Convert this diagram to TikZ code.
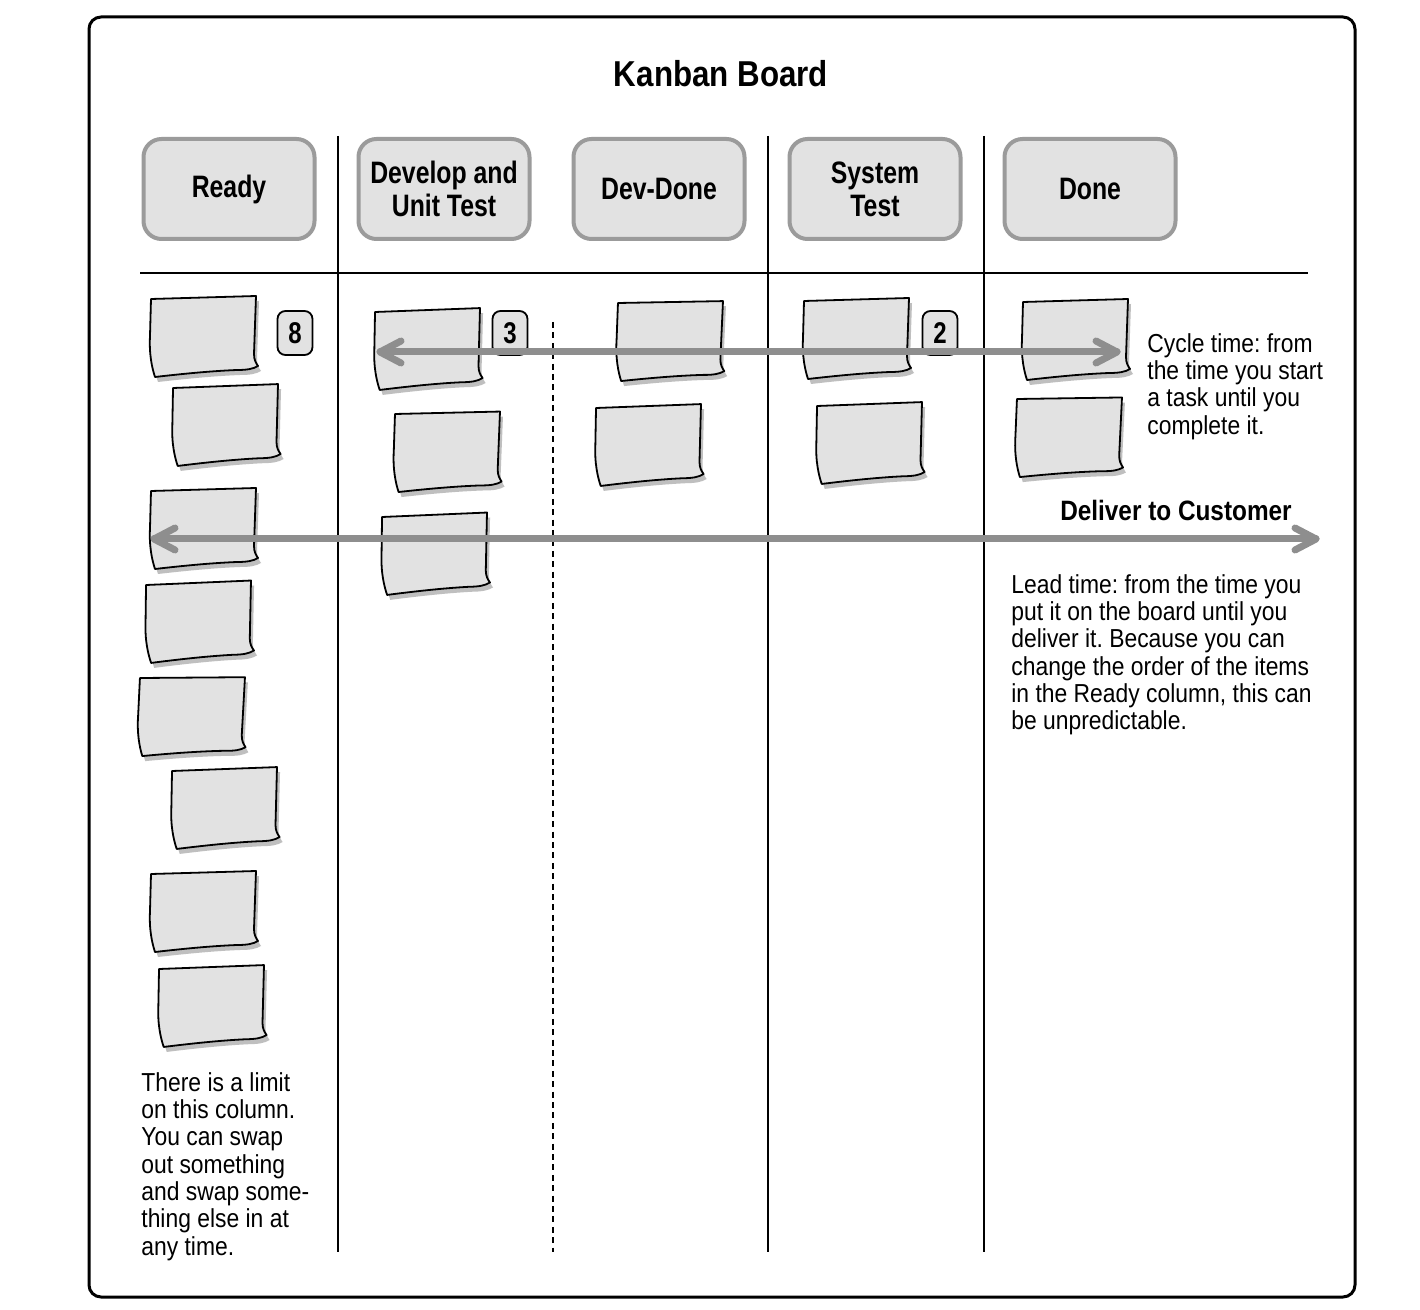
\documentclass[tikz,border=0pt]{standalone}
\usepackage{fontspec}
\setmainfont{Liberation Sans}[FakeStretch=0.88]
\newfontfamily\headfont{Liberation Sans}[FakeStretch=0.8]
\newfontfamily\titlefont{Liberation Sans}[FakeStretch=0.87]
\frenchspacing
\definecolor{cardgray}{HTML}{E2E2E2}
\definecolor{rimgray}{HTML}{9B9B9B}
\definecolor{flowgray}{HTML}{8E8E8E}
\tikzset{
    header/.style={rectangle, rounded corners=9pt, draw=rimgray, line width=2pt, fill=cardgray, minimum width=85.5pt, minimum height=50pt, align=center, inner sep=0, font=\headfont\bfseries\fontsize{15.5}{16.5}\selectfont},
    badge/.style={rectangle, rounded corners=4pt, draw=black, line width=0.9pt, fill=cardgray, minimum width=17.5pt, minimum height=22pt, inner sep=0, font=\headfont\bfseries\fontsize{15}{16}\selectfont},
    remark/.style={anchor=north west, inner sep=0, align=left, font=\fontsize{13}{13.65}\selectfont},
    colline/.style={line width=1pt},
    timeline/.style={draw=flowgray, line width=3.5pt, line cap=round, line join=round}
}
\newcommand\stickynote[4]{%
    \begin{scope}[shift={(#2,#3)}, rotate=#4]
        \fill[black!25] (3,8) -- (108,5) -- (106,63) .. controls (106,69) and (108,72) .. (110,75) .. controls (105,78) and (99,79) .. (89,79) .. controls (63,80) and (33,83) .. (7,86) .. controls (4,77) and (1,63) .. (2,45) -- cycle;
        \filldraw[fill=cardgray, line width=0.9pt, line join=round] (0,3) -- (105,0) -- (103,58) .. controls (103,64) and (105,67) .. (107,70) .. controls (102,73) and (96,74) .. (86,74) .. controls (60,75) and (30,78) .. (4,81) .. controls (1,72) and (-2,58) .. (-1,40) -- cycle;
        \coordinate (#1) at (52,40);
    \end{scope}}

\begin{document}
\begin{tikzpicture}[x=0.5pt, y=-0.5pt]
    \useasboundingbox[fill=white] (0,0) rectangle (1420,1310);
    \draw[line width=1.5pt, rounded corners=6pt] (89,17) rectangle (1355,1297);
    \node[font=\titlefont\bfseries\fontsize{18}{20}\selectfont] (title) at (721,74) {Kanban Board};

    \node[header] (ready) at (229,189) {Ready};
    \node[header] (develop) at (444,189) {Develop and\\Unit Test};
    \node[header] (devdone) at (659,189) {Dev-Done};
    \node[header] (systest) at (875,189) {System\\Test};
    \node[header] (done) at (1090,189) {Done};

    \draw[colline] (140,273) -- (1308,273);
    \foreach \x in {338,768,984}
        \draw[colline] (\x,136) -- (\x,1252);
    \draw[colline, dash pattern=on 3pt off 2.2pt] (553,322) -- (553,1252);

    \stickynote{r1}{151}{296}{0}
    \stickynote{r2}{173}{385}{0.5}
    \stickynote{r3}{151}{488}{0}
    \stickynote{r4}{146}{582}{0.8}
    \stickynote{r5}{140}{675}{-1.2}
    \stickynote{r6}{172}{768}{0.5}
    \stickynote{r7}{151}{871}{0}
    \stickynote{r8}{159}{966}{0.5}
    \stickynote{d1}{375}{309}{0.5}
    \stickynote{d2}{395}{411}{-0.3}
    \stickynote{d3}{382}{514}{0.8}
    \stickynote{v1}{618}{300}{-0.6}
    \stickynote{v2}{596}{405}{0.5}
    \stickynote{s1}{804}{298}{0}
    \stickynote{s2}{817}{403}{0.5}
    \stickynote{f1}{1023}{299}{0}
    \stickynote{f2}{1017}{396}{-0.8}

    \node[badge] (limready) at (295,333) {8};
    \node[badge] (limdev) at (510,333) {3};
    \node[badge] (limsys) at (940,333) {2};

    \coordinate (cycleL) at (380,352);
    \coordinate (cycleR) at (1117,352);
    \coordinate (leadL) at (154,539);
    \coordinate (leadR) at (1316,539);
    \draw[timeline] (cycleL) -- (cycleR);
    \draw[timeline] ([shift={(21,-11)}]cycleL) -- (cycleL) -- ([shift={(21,11)}]cycleL);
    \draw[timeline] ([shift={(-21,-11)}]cycleR) -- (cycleR) -- ([shift={(-21,11)}]cycleR);
    \draw[timeline] (leadL) -- (leadR);
    \draw[timeline] ([shift={(21,-11)}]leadL) -- (leadL) -- ([shift={(21,11)}]leadL);
    \draw[timeline] ([shift={(-21,-11)}]leadR) -- (leadR) -- ([shift={(-21,11)}]leadR);

    \node[remark] (cyclenote) at (1147,333) {Cycle time: from\\the time you start\\a task until you\\complete it.};
    \node[font=\titlefont\bfseries\fontsize{14}{16}\selectfont] (deliver) at (1176,510) {Deliver to Customer};
    \node[remark] (leadnote) at (1011,574) {Lead time: from the time you\\put it on the board until you\\deliver it. Because you can\\change the order of the items\\in the Ready column, this can\\be unpredictable.};
    \node[remark] (limitnote) at (141,1072) {There is a limit\\on this column.\\You can swap\\out something\\and swap some-\\thing else in at\\any time.};
\end{tikzpicture}
\end{document}
